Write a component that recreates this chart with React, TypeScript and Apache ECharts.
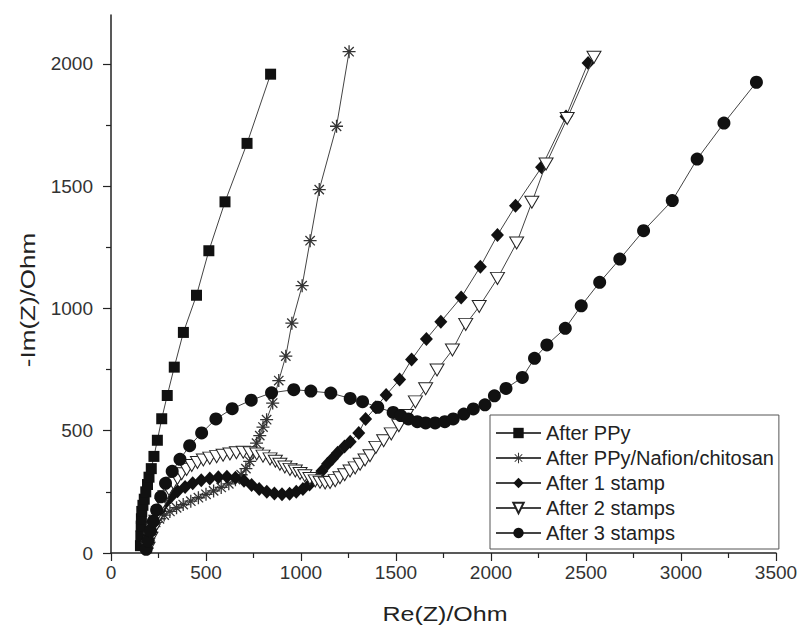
import React, { useEffect, useRef } from "react";
import * as echarts from "echarts";

// After PPy
const ppyRe = [155, 157, 159, 160, 162, 168, 175, 183, 192, 200, 212, 226, 244, 267, 296, 333, 381, 450, 515, 600, 716, 840];
const ppyIm = [30, 70, 110, 140, 170, 195, 220, 250, 280, 310, 345, 395, 461, 549, 644, 760, 902, 1054, 1236, 1436, 1675, 1958];

// After PPy/Nafion/chitosan
const nafRe = [190, 195, 205, 218, 235, 255, 280, 310, 345, 380, 420, 460, 500, 540, 580, 620, 655, 685, 710, 730, 748, 766, 783, 800, 819, 851, 883, 920, 952, 1006, 1048, 1096, 1187, 1253];
const nafIm = [20, 50, 80, 105, 125, 140, 155, 170, 185, 198, 212, 226, 240, 254, 268, 283, 300, 320, 345, 375, 410, 449, 480, 515, 545, 613, 705, 805, 940, 1093, 1277, 1486, 1745, 2050];

// After 1 stamp
const s1Re = [190, 200, 215, 235, 258, 285, 315, 350, 390, 430, 475, 520, 565, 610, 655, 700, 740, 780, 820, 860, 900, 940, 975, 1010, 1045, 1080, 1110, 1140, 1165, 1193, 1229, 1259, 1304, 1340, 1394, 1448, 1519, 1582, 1660, 1736, 1843, 1944, 2034, 2129, 2266, 2395, 2511];
const s1Im = [20, 60, 100, 140, 175, 205, 230, 252, 270, 285, 297, 305, 310, 312, 308, 295, 278, 262, 250, 243, 240, 242, 250, 262, 280, 305, 335, 365, 385, 410, 435, 455, 491, 548, 596, 646, 709, 791, 875, 946, 1045, 1171, 1300, 1420, 1577, 1785, 2004];

// After 2 stamps
const s2Re = [195, 210, 223, 236, 250, 268, 284, 305, 328, 350, 372, 398, 425, 455, 486, 520, 556, 590, 626, 660, 696, 732, 767, 800, 837, 865, 889, 915, 942, 970, 995, 1020, 1047, 1075, 1100, 1127, 1153, 1180, 1205, 1230, 1258, 1285, 1311, 1337, 1363, 1394, 1435, 1475, 1515, 1555, 1602, 1656, 1716, 1797, 1867, 1938, 2034, 2135, 2215, 2290, 2401, 2542];
const s2Im = [20, 60, 95, 130, 165, 200, 230, 260, 285, 305, 324, 342, 358, 370, 380, 388, 394, 400, 405, 410, 412, 410, 405, 396, 385, 375, 363, 352, 342, 335, 325, 316, 305, 295, 289, 286, 288, 296, 308, 320, 335, 348, 363, 380, 398, 432, 459, 487, 521, 562, 618, 672, 748, 830, 935, 1008, 1123, 1268, 1434, 1591, 1777, 2027];

// After 3 stamps
const s3Re = [185, 195, 208, 223, 240, 262, 287, 322, 363, 414, 477, 552, 638, 738, 845, 962, 1052, 1157, 1259, 1324, 1404, 1485, 1525, 1565, 1612, 1656, 1706, 1757, 1801, 1857, 1907, 1968, 2018, 2079, 2165, 2229, 2294, 2391, 2475, 2572, 2678, 2803, 2954, 3085, 3226, 3397];
const s3Im = [15, 50, 90, 130, 176, 230, 285, 334, 383, 439, 491, 548, 590, 625, 655, 668, 662, 654, 632, 619, 596, 575, 562, 548, 537, 532, 532, 537, 548, 568, 589, 606, 643, 673, 718, 796, 851, 919, 1011, 1107, 1202, 1318, 1441, 1611, 1758, 1925];

const seriesNames = ["After PPy", "After PPy/Nafion/chitosan", "After 1 stamp", "After 2 stamps", "After 3 stamps"];
const xMajorTicks = [0, 500, 1000, 1500, 2000, 2500, 3000, 3500];
const yMajorTicks = [0, 500, 1000, 1500, 2000];
const yMinorTicks = [250, 750, 1250, 1750];

const ASTERISK =
  "path://M9,0 L11,0 L11,20 L9,20 Z M0,9 L20,9 L20,11 L0,11 Z M2.1,3.5 L3.5,2.1 L17.9,16.5 L16.5,17.9 Z M16.5,2.1 L17.9,3.5 L3.5,17.9 L2.1,16.5 Z";
const DOWN_TRI = "path://M0,0 L12,0 L6,10 Z";

const zip = (xs: number[], ys: number[]) => xs.map((x, i) => [x, ys[i]]);

export default function App() {
  const ref = useRef<HTMLDivElement>(null);
  useEffect(() => {
    document.body.style.margin = "0";
    if (!ref.current) return;
    const chart = echarts.init(ref.current, undefined, { renderer: "svg" });
    const font = "Liberation Sans, Arial, sans-serif";
    const lineStyle = { color: "#444", width: 1 };
    const plain = (v: number) => String(v);
    const mk = (name: string, data: number[][], symbol: string, size: any, itemStyle: any, z: number) => ({
      name,
      type: "line",
      data,
      symbol,
      symbolSize: size,
      showAllSymbol: true,
      lineStyle,
      itemStyle,
      z,
      emphasis: { disabled: true },
    });
    chart.setOption({
      animation: false,
      backgroundColor: "#fff",
      grid: { left: 111, right: 25, top: 15, bottom: 80, outerBoundsMode: "none" },
      xAxis: {
        type: "value",
        min: 0,
        max: 3500,
        interval: 500,
        axisLine: { show: true, lineStyle: { color: "#222", width: 1.5 } },
        axisTick: { show: true, length: 8, lineStyle: { color: "#222", width: 1.2 } },
        minorTick: { show: true, splitNumber: 2, length: 5, lineStyle: { color: "#222", width: 1.2 } },
        splitLine: { show: false },
        axisLabel: { fontSize: 19, color: "#333", margin: 10, fontFamily: font, customValues: xMajorTicks, formatter: plain },
      },
      yAxis: [
        {
          type: "value",
          min: 0,
          max: 2200,
          position: "left",
          axisLine: { show: true, lineStyle: { color: "#222", width: 1.5 } },
          axisTick: { show: true, length: 8, customValues: yMajorTicks, lineStyle: { color: "#222", width: 1.2 } },
          splitLine: { show: false },
          axisLabel: { fontSize: 19, color: "#333", margin: 18, fontFamily: font, customValues: yMajorTicks, formatter: plain },
        },
        {
          type: "value",
          min: 0,
          max: 2200,
          position: "left",
          axisLine: { show: false },
          axisTick: { show: true, length: 5, customValues: yMinorTicks, lineStyle: { color: "#222", width: 1.2 } },
          splitLine: { show: false },
          axisLabel: { show: false },
        },
      ],
      legend: {
        orient: "vertical",
        left: 490,
        top: 415,
        padding: [8, 5, 6, 5],
        itemGap: 5,
        itemWidth: 45,
        itemHeight: 13,
        borderColor: "#555",
        borderWidth: 1,
        borderRadius: 0,
        backgroundColor: "#fff",
        textStyle: { fontSize: 20, color: "#222", fontFamily: font, padding: [0, 0, 0, 0] },
        data: seriesNames,
      },
      graphic: [
        {
          type: "text",
          x: 445,
          y: 614,
          scaleX: 1.25,
          style: { text: "Re(Z)/Ohm", font: `20px ${font}`, fill: "#222", textAlign: "center", textVerticalAlign: "middle" },
        },
        {
          type: "text",
          x: 28,
          y: 300,
          rotation: Math.PI / 2,
          scaleX: 1.3,
          style: { text: "-Im(Z)/Ohm", font: `20px ${font}`, fill: "#222", textAlign: "center", textVerticalAlign: "middle" },
        },
      ],
      series: [
        mk(seriesNames[0], zip(ppyRe, ppyIm), "rect", 11, { color: "#111" }, 2),
        mk(seriesNames[1], zip(nafRe, nafIm), ASTERISK, 13, { color: "#333" }, 3),
        mk(seriesNames[2], zip(s1Re, s1Im), "diamond", [13, 14], { color: "#111" }, 4),
        mk(seriesNames[3], zip(s2Re, s2Im), DOWN_TRI, [14, 12], { color: "#fff", borderColor: "#222", borderWidth: 1 }, 5),
        mk(seriesNames[4], zip(s3Re, s3Im), "circle", 13, { color: "#111" }, 6),
      ],
    });
    return () => chart.dispose();
  }, []);
  return <div ref={ref} style={{ width: 801, height: 633, position: "absolute", left: 0, top: 0 }} />;
}
